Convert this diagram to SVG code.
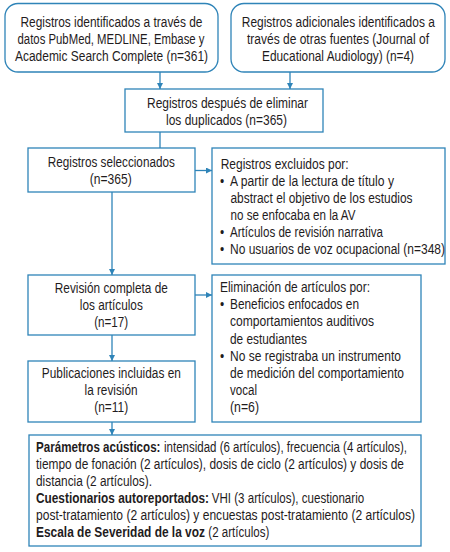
<svg xmlns="http://www.w3.org/2000/svg" width="450" height="552" viewBox="0 0 450 552">
<style>
.box{fill:#fff;stroke:#2f84b8;stroke-width:1.3}
.ln{fill:none;stroke:#2f84b8;stroke-width:1.3}
text{font-family:"Liberation Sans",Arial,sans-serif;font-size:15px;fill:#1f1c1d}
.c{text-anchor:middle}
.b{font-weight:bold}
</style>
<defs>
<marker id="ah" markerUnits="userSpaceOnUse" markerWidth="8" markerHeight="8" refX="6" refY="3" orient="auto">
<path d="M0,0 L6,3 L0,6 z" fill="#2f84b8"/>
</marker>
</defs>
<rect width="450" height="552" fill="#fff"/>
<g id="connectors">
<line class="ln" x1="160" y1="72" x2="160" y2="89" marker-end="url(#ah)"/>
<line class="ln" x1="290" y1="72" x2="290" y2="89" marker-end="url(#ah)"/>
<line class="ln" x1="160" y1="132" x2="160" y2="148"/>
<line class="ln" x1="195" y1="170.5" x2="212" y2="170.5" marker-end="url(#ah)"/>
<line class="ln" x1="112" y1="192" x2="112" y2="275" marker-end="url(#ah)"/>
<line class="ln" x1="195" y1="295" x2="212" y2="295" marker-end="url(#ah)"/>
<line class="ln" x1="112" y1="335" x2="112" y2="361" marker-end="url(#ah)"/>
<line class="ln" x1="112" y1="422" x2="112" y2="435" marker-end="url(#ah)"/>
</g>
<g id="n1">
<rect class="box" x="5" y="3.5" width="213" height="68.5" rx="13"/>
<text class="c" transform="translate(111.5,26.7) scale(0.8,1)" textLength="227.5" lengthAdjust="spacingAndGlyphs">Registros identificados a través de</text>
<text class="c" transform="translate(111,43.7) scale(0.8,1)" textLength="233.75" lengthAdjust="spacingAndGlyphs">datos PubMed, MEDLINE, Embase y</text>
<text class="c" transform="translate(111.5,60.7) scale(0.8,1)" textLength="241.25" lengthAdjust="spacingAndGlyphs">Academic Search Complete (n=361)</text>
</g>
<g id="n2">
<rect class="box" x="231" y="3.5" width="214" height="68.5" rx="13"/>
<text class="c" transform="translate(338.3,26.7) scale(0.8,1)" textLength="241.25" lengthAdjust="spacingAndGlyphs">Registros adicionales identificados a</text>
<text class="c" transform="translate(338,43.7) scale(0.8,1)" textLength="227.5" lengthAdjust="spacingAndGlyphs">través de otras fuentes (Journal of</text>
<text class="c" transform="translate(338,60.7) scale(0.8,1)" textLength="190" lengthAdjust="spacingAndGlyphs">Educational Audiology) (n=4)</text>
</g>
<g id="n3">
<rect class="box" x="125" y="89" width="198" height="43"/>
<text class="c" transform="translate(227.5,107.5) scale(0.8,1)" textLength="201.25" lengthAdjust="spacingAndGlyphs">Registros después de eliminar</text>
<text class="c" transform="translate(226.5,124.5) scale(0.8,1)" textLength="151.25" lengthAdjust="spacingAndGlyphs">los duplicados (n=365)</text>
</g>
<g id="n4">
<rect class="box" x="28" y="148" width="167" height="44"/>
<text class="c" transform="translate(111.3,167) scale(0.8,1)" textLength="158.75" lengthAdjust="spacingAndGlyphs">Registros seleccionados</text>
<text class="c" transform="translate(110.8,184) scale(0.8,1)" textLength="52.5" lengthAdjust="spacingAndGlyphs">(n=365)</text>
</g>
<g id="n5">
<rect class="box" x="212" y="148" width="233" height="116"/>
<text transform="translate(220.7,169) scale(0.8,1)" textLength="160" lengthAdjust="spacingAndGlyphs">Registros excluidos por:</text>
<text transform="translate(220,186) scale(0.8,1)">•</text>
<text transform="translate(230,186) scale(0.8,1)" textLength="205" lengthAdjust="spacingAndGlyphs">A partir de la lectura de título y</text>
<text transform="translate(230.5,203) scale(0.8,1)" textLength="227.5" lengthAdjust="spacingAndGlyphs">abstract el objetivo de los estudios</text>
<text transform="translate(230.5,220) scale(0.8,1)" textLength="156.25" lengthAdjust="spacingAndGlyphs">no se enfocaba en la AV</text>
<text transform="translate(220,237) scale(0.8,1)">•</text>
<text transform="translate(230,237) scale(0.8,1)" textLength="191.25" lengthAdjust="spacingAndGlyphs">Artículos de revisión narrativa</text>
<text transform="translate(220,254) scale(0.8,1)">•</text>
<text transform="translate(230,254) scale(0.8,1)" textLength="268.75" lengthAdjust="spacingAndGlyphs">No usuarios de voz ocupacional (n=348)</text>
</g>
<g id="n6">
<rect class="box" x="28" y="275" width="167" height="60"/>
<text class="c" transform="translate(111.3,292.5) scale(0.8,1)" textLength="141.25" lengthAdjust="spacingAndGlyphs">Revisión completa de</text>
<text class="c" transform="translate(111.3,309.5) scale(0.8,1)" textLength="78.75" lengthAdjust="spacingAndGlyphs">los artículos</text>
<text class="c" transform="translate(111.2,326.5) scale(0.8,1)" textLength="42.5" lengthAdjust="spacingAndGlyphs">(n=17)</text>
</g>
<g id="n7">
<rect class="box" x="212" y="275" width="209" height="147"/>
<text transform="translate(220,292) scale(0.8,1)" textLength="187.5" lengthAdjust="spacingAndGlyphs">Eliminación de artículos por:</text>
<text transform="translate(220,309.2) scale(0.8,1)">•</text>
<text transform="translate(230,309.2) scale(0.8,1)" textLength="161.25" lengthAdjust="spacingAndGlyphs">Beneficios enfocados en</text>
<text transform="translate(230,326.4) scale(0.8,1)" textLength="180" lengthAdjust="spacingAndGlyphs">comportamientos auditivos</text>
<text transform="translate(230,343.6) scale(0.8,1)" textLength="96.25" lengthAdjust="spacingAndGlyphs">de estudiantes</text>
<text transform="translate(220,360.8) scale(0.8,1)">•</text>
<text transform="translate(230,360.8) scale(0.8,1)" textLength="213.75" lengthAdjust="spacingAndGlyphs">No se registraba un instrumento</text>
<text transform="translate(230,378) scale(0.8,1)" textLength="217.5" lengthAdjust="spacingAndGlyphs">de medición del comportamiento</text>
<text transform="translate(230,395.2) scale(0.8,1)" textLength="33.75" lengthAdjust="spacingAndGlyphs">vocal</text>
<text transform="translate(230,412.4) scale(0.8,1)" textLength="36.25" lengthAdjust="spacingAndGlyphs">(n=6)</text>
</g>
<g id="n8">
<rect class="box" x="28" y="361" width="167" height="61"/>
<text class="c" transform="translate(111.3,377.5) scale(0.8,1)" textLength="173.75" lengthAdjust="spacingAndGlyphs">Publicaciones incluidas en</text>
<text class="c" transform="translate(111,394.7) scale(0.8,1)" textLength="66.25" lengthAdjust="spacingAndGlyphs">la revisión</text>
<text class="c" transform="translate(111.2,412) scale(0.8,1)" textLength="42.5" lengthAdjust="spacingAndGlyphs">(n=11)</text>
</g>
<g id="n9">
<rect class="box" x="29" y="435" width="392" height="111"/>
<text class="b" transform="translate(36,452) scale(0.8,1)" textLength="155.6" lengthAdjust="spacingAndGlyphs">Parámetros acústicos:</text>
<text transform="translate(164,452) scale(0.8,1)" textLength="303.75" lengthAdjust="spacingAndGlyphs">intensidad (6 artículos), frecuencia (4 artículos),</text>
<text transform="translate(36,469) scale(0.8,1)" textLength="460" lengthAdjust="spacingAndGlyphs">tiempo de fonación (2 artículos), dosis de ciclo (2 artículos) y dosis de</text>
<text transform="translate(36,486) scale(0.8,1)" textLength="145" lengthAdjust="spacingAndGlyphs">distancia (2 artículos).</text>
<text class="b" transform="translate(36,503) scale(0.8,1)" textLength="216.25" lengthAdjust="spacingAndGlyphs">Cuestionarios autoreportados:</text>
<text transform="translate(211.7,503) scale(0.8,1)" textLength="190.6" lengthAdjust="spacingAndGlyphs">VHI (3 artículos), cuestionario</text>
<text transform="translate(36,520) scale(0.8,1)" textLength="473.75" lengthAdjust="spacingAndGlyphs">post-tratamiento (2 artículos) y encuestas post-tratamiento (2 artículos)</text>
<text class="b" transform="translate(36,537) scale(0.8,1)" textLength="211.25" lengthAdjust="spacingAndGlyphs">Escala de Severidad de la voz</text>
<text transform="translate(208.3,537) scale(0.8,1)" textLength="76.25" lengthAdjust="spacingAndGlyphs">(2 artículos)</text>
</g>
</svg>
